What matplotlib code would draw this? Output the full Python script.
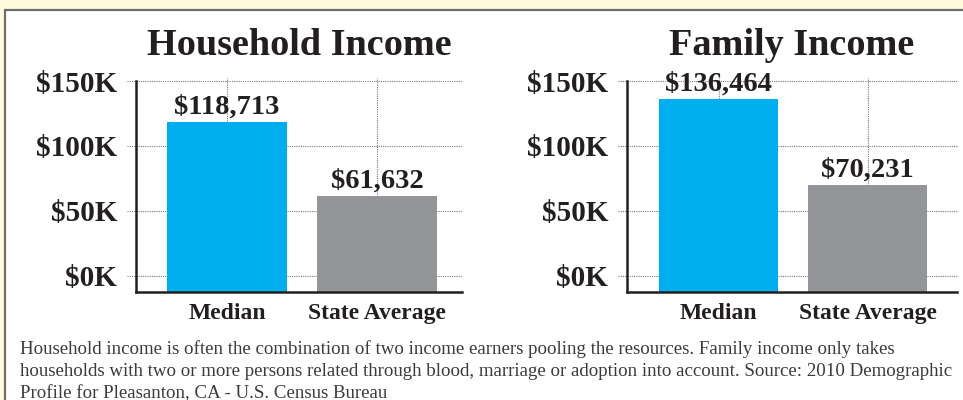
import numpy as np
import matplotlib
matplotlib.use('Agg')
import matplotlib.pyplot as plt
from matplotlib.patches import Rectangle
import matplotlib.ticker as mticker

# chart data
categories = ['Median', 'State Average']
household_income = [118713, 61632]
family_income = [136464, 70231]
panel_titles = ['Household Income', 'Family Income']
ytick_values = [0, 50, 100, 150]
note = ('Household income is often the combination of two income earners pooling the resources. '
        'Family income only takes\nhouseholds with two or more persons related through blood, '
        'marriage or adoption into account. Source: 2010 Demographic\n'
        'Profile for Pleasanton, CA - U.S. Census Bureau')

bar_colors = ['#00AEEF', '#939598']
ink = '#231F20'
grid_col = '#7a7a7a'
serif = ['Liberation Serif', 'DejaVu Serif']

fig = plt.figure(figsize=(9.63, 4), dpi=100, facecolor='#FFFBDC')

# white panel with grey border, kept behind the axes
panel = Rectangle((5 / 963, -0.01), 1.0, 1 - 10 / 400 + 0.01, transform=fig.transFigure,
                  facecolor='white', edgecolor='#6d6d6d', linewidth=1.6, zorder=-5)
fig.patches.append(panel)

ymin, ymax = -12.5, 150
axes_specs = [
    (136 / 963, 0.27, 326 / 963, 0.5275, -0.607, 1.567),
    (627 / 963, 0.27, 330 / 963, 0.5275, -0.617, 1.6),
]

for spec, title, values in zip(axes_specs, panel_titles, [household_income, family_income]):
    left, bottom, width, height, x0, x1 = spec
    ax = fig.add_axes([left, bottom, width, height])
    ax.set_facecolor('none')
    vals_k = np.array(values) / 1000.0
    x = np.arange(len(categories))

    # dotted grid lines, horizontal ones poke out left of the axis
    ax.hlines(ytick_values, -0.028, 1.0, transform=ax.get_yaxis_transform(),
              colors=grid_col, linestyles=(0, (1, 1)), linewidth=0.8, clip_on=False, zorder=1)
    ax.vlines(x, ymin, ymax + 2, colors=grid_col, linestyles=(0, (1, 1)),
              linewidth=0.8, clip_on=False, zorder=1)

    ax.bar(x, vals_k - ymin, bottom=ymin, width=0.8, color=bar_colors, zorder=2)

    for xi, v, raw in zip(x, vals_k, values):
        ax.annotate(f'${raw:,}', (xi, v), xytext=(0, 6), textcoords='offset points',
                    ha='center', va='baseline', fontsize=20.5, fontweight='bold',
                    family=serif, color=ink, zorder=3)

    ax.set_xlim(x0, x1)
    ax.set_ylim(ymin, ymax)
    ax.set_yticks(ytick_values)
    ax.yaxis.set_major_formatter(mticker.FuncFormatter(lambda v, p: f'${v:.0f}K'))
    ax.set_xticks(x)
    ax.set_xticklabels(categories)
    ax.tick_params(axis='y', length=0, pad=13.5, labelsize=21, colors=ink)
    ax.tick_params(axis='x', length=0, pad=8, labelsize=17, colors=ink)
    for lab in ax.get_xticklabels() + ax.get_yticklabels():
        lab.set_family(serif)
        lab.set_fontweight('bold')

    for side in ['top', 'right']:
        ax.spines[side].set_visible(False)
    for side in ['left', 'bottom']:
        ax.spines[side].set_color(ink)
        ax.spines[side].set_linewidth(1.8)
        ax.spines[side].set_zorder(4)

    ax.set_title(title, fontsize=27.5, fontweight='bold', family=serif, color=ink, pad=19)

fig.text(20 / 963, 1 - 340 / 400, note, ha='left', va='top', fontsize=13.6,
         family=serif, color='#3a3a3a', linespacing=1.38)

fig.savefig('out.png', dpi=100, facecolor=fig.get_facecolor())
